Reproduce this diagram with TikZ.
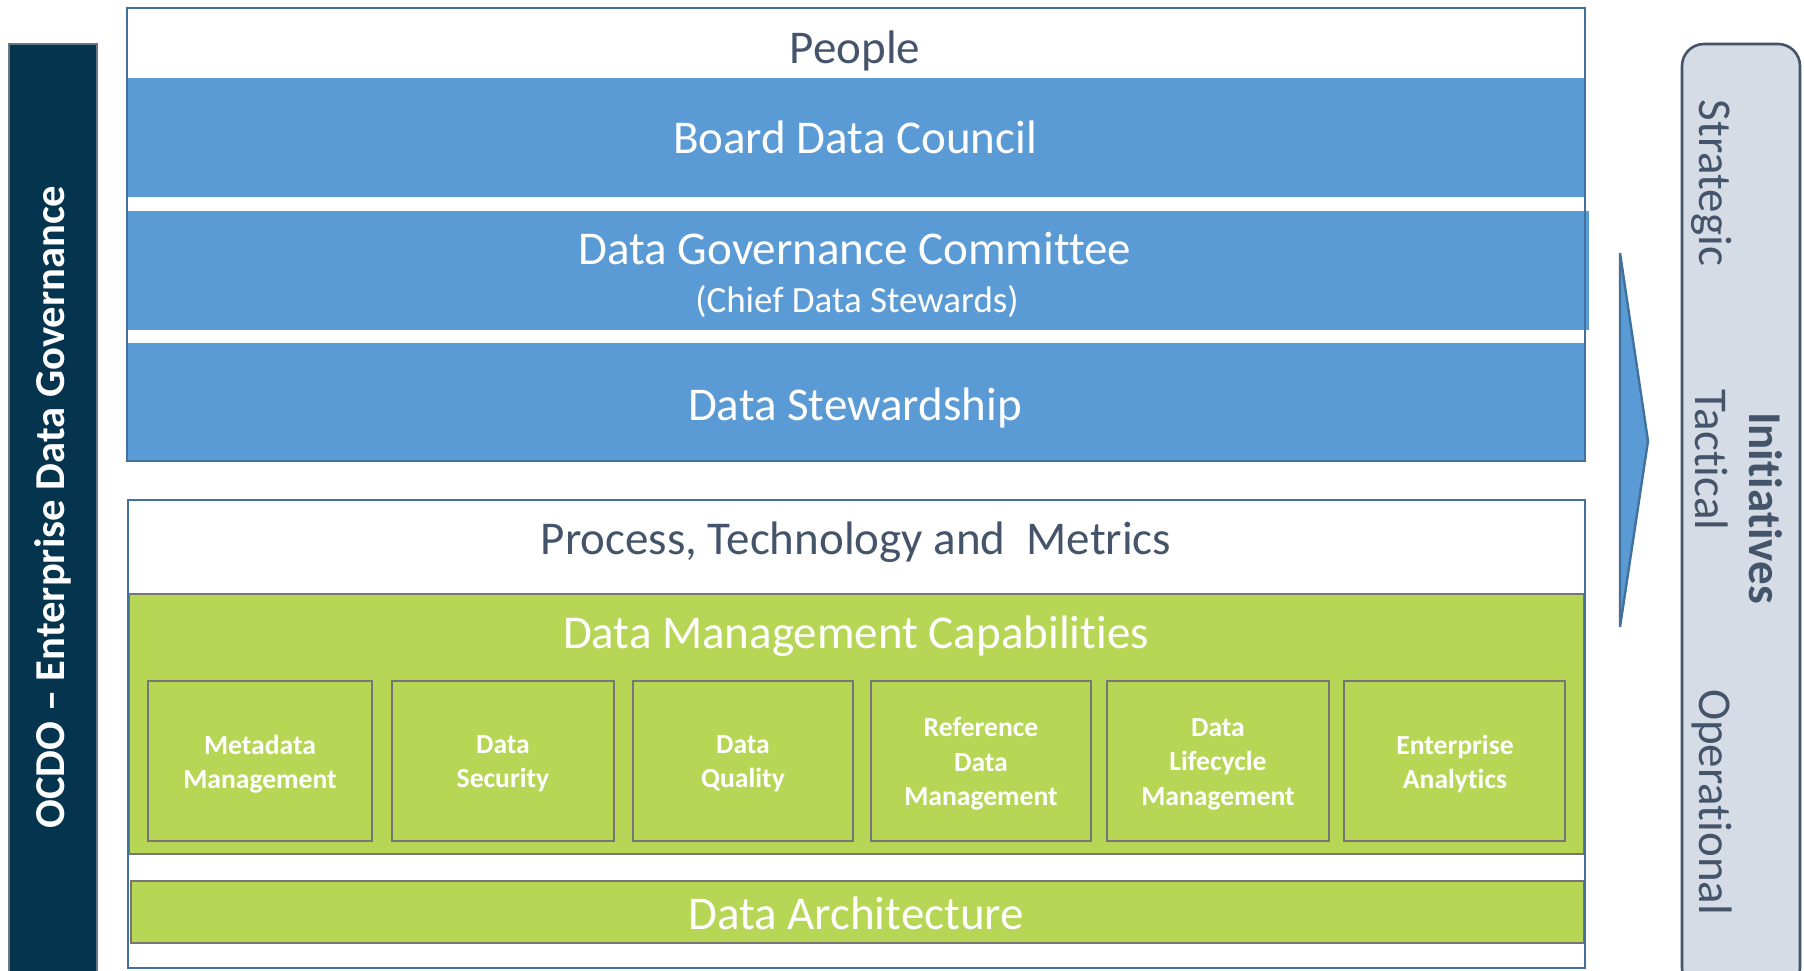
\documentclass[tikz,border=0pt]{standalone}
\usepackage{fontspec}
\setmainfont{Carlito}[Ligatures={NoCommon,NoContextual}]
\definecolor{bandblue}{HTML}{5B9BD5}
\definecolor{edgeblue}{HTML}{41719C}
\definecolor{leafgreen}{HTML}{B7D656}
\definecolor{boxgrey}{HTML}{767676}
\definecolor{navy}{HTML}{05344F}
\definecolor{slate}{HTML}{44546A}
\definecolor{paleslate}{HTML}{D6DCE5}
\tikzset{
  x=0.5pt, y=-0.5pt,
  bigtxt/.style={font=\fontsize{23.5}{28}\selectfont, inner sep=0pt, anchor=center},
  whitetxt/.style={bigtxt, text=white},
  slatetxt/.style={bigtxt, text=slate},
  capbox/.style={draw=boxgrey, line width=1.3pt, fill=leafgreen},
  captxt/.style={font=\fontsize{13.8}{17.2}\selectfont\bfseries, text=white, align=center, inner sep=0pt},
}
\begin{document}
\begin{tikzpicture}
\useasboundingbox (0,0) rectangle (1804,970);
% left navy bar
\fill[navy, draw=slate!80, line width=1pt] (9,44) rectangle (97,972);
\node[rotate=90, font=\fontsize{21.3}{25}\selectfont\bfseries, text=white, inner sep=0pt] (ocdo) at (53,507) {OCDO – Enterprise Data Governance};

% People block
\draw[edgeblue, line width=1.2pt, fill=white] (127,8) rectangle (1585,461);
\fill[bandblue] (128,78) rectangle (1584,197);
\fill[bandblue] (128,211) rectangle (1589,330);
\fill[bandblue] (128,343) rectangle (1584,460);
\draw[edgeblue, line width=1.2pt] (127,8) rectangle (1585,461);
\node[slatetxt] (people) at (855,50.5) {People};
\node[whitetxt] (board) at (855,137) {Board Data Council};
\node[whitetxt] (dgc) at (855,248.5) {Data Governance Committee};
\node[whitetxt, font=\fontsize{18.5}{22}\selectfont] (chief) at (857,301.5) {(Chief Data Stewards)};
\node[whitetxt] (stew) at (855,407.5) {Data Stewardship};

% Process block
\draw[edgeblue, line width=1.2pt, fill=white] (128,500) rectangle (1585,968);
\draw[boxgrey, line width=1.2pt, fill=leafgreen] (129,594) rectangle (1584,854);
\draw[boxgrey, line width=1.2pt, fill=leafgreen] (131,881) rectangle (1584,943);
\draw[edgeblue, line width=1.2pt] (128,500) -- (128,968);
\draw[edgeblue, line width=1.2pt] (1585,500) -- (1585,968);
\node[slatetxt] (ptm) at (856,542.5) {Process, Technology and\ \ Metrics};
\node[whitetxt] (dmc) at (856,636.5) {Data Management Capabilities};
\node[whitetxt] (arch) at (856,913) {Data Architecture};

\draw[capbox] (148,681) rectangle (372,841);
\draw[capbox] (392,681) rectangle (614,841);
\draw[capbox] (633,681) rectangle (853,841);
\draw[capbox] (871,681) rectangle (1091,841);
\draw[capbox] (1107,681) rectangle (1329,841);
\draw[capbox] (1344,681) rectangle (1565,841);
\node[captxt] (meta) at (260,764) {Metadata\\Management};
\node[captxt] (sec) at (503,764) {Data\\Security};
\node[captxt] (qual) at (743,764) {Data\\Quality};
\node[captxt] (ref) at (981,764) {Reference\\Data\\Management};
\node[captxt] (life) at (1218,764) {Data\\Lifecycle\\Management};
\node[captxt] (ana) at (1455,764) {Enterprise\\Analytics};

% chevron
\draw[edgeblue, line width=1.2pt, fill=bandblue, line join=miter] (1620,253) -- (1648,441) -- (1620,627) -- cycle;

% Initiatives box
\draw[slate, line width=1.3pt, fill=paleslate, rounded corners=11pt] (1682,44) rectangle (1800,990);
\node[rotate=-90, bigtxt, text=slate] (strat) at (1712,183) {Strategic};
\node[rotate=-90, bigtxt, text=slate] (tact) at (1712,460) {Tactical};
\node[rotate=-90, bigtxt, text=slate] (oper) at (1712,802) {Operational};
\node[rotate=-90, bigtxt, text=slate, font=\fontsize{23.5}{28}\selectfont\bfseries] (init) at (1766,508) {Initiatives};
\end{tikzpicture}
\end{document}
